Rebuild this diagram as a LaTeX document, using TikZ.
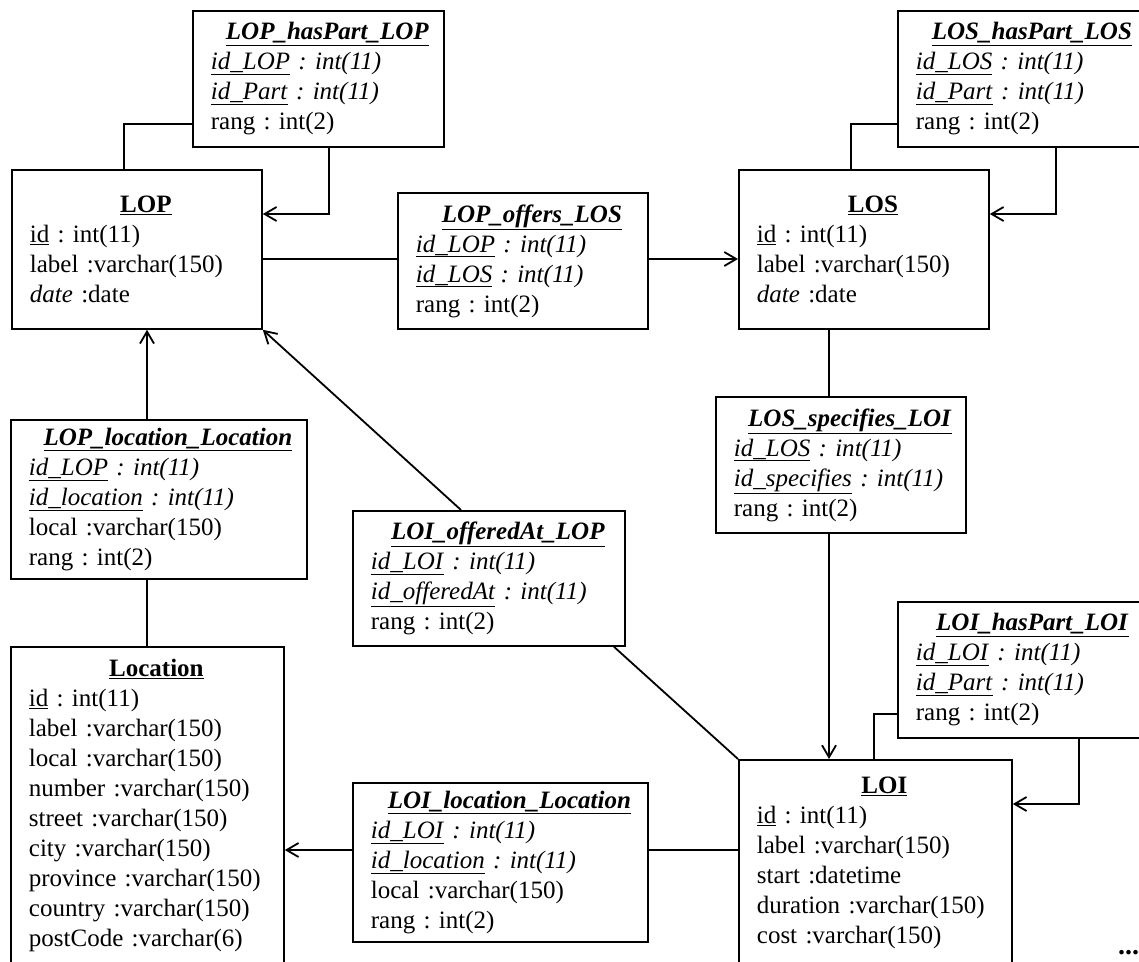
\documentclass[tikz,border=0pt]{standalone}
\usepackage{fontspec}
\setmainfont{Liberation Serif}
\usetikzlibrary{arrows.meta}
\frenchspacing
\newcommand\tbltitle[2]{\makebox[#1][c]{\hspace*{18pt}\underline{\textbf{#2}}}}
\newcommand\fkey[2]{\underline{\textit{#1}}\textit{ : #2}}
\tikzset{
  tbl/.style={draw, line width=1.8pt, anchor=north west, align=left,
    inner xsep=18pt, inner ysep=0pt, font=\frenchspacing\fontsize{25pt}{30pt}\selectfont},
  conn/.style={line width=1.8pt},
  arr/.style={conn, -{Straight Barb[length=12pt,width=14pt]}},
}
\begin{document}
\begin{tikzpicture}[x=1pt,y=-1pt]
\useasboundingbox (0,0) rectangle (1139,961);
\fill[white] (0,0) rectangle (1139,961);
\clip (0,0) rectangle (1139,961);

% tables
\node[tbl, minimum width=251pt, minimum height=136pt, text width=215pt] (lophp) at (192,10)
  {\tbltitle{215pt}{\textit{LOP\_hasPart\_LOP}}\\ \fkey{id\_LOP}{int(11)}\\ \fkey{id\_Part}{int(11)}\\ rang : int(2)};
\node[tbl, minimum width=250pt, minimum height=159pt, text width=214pt] (lop) at (11,169)
  {\tbltitle{214pt}{LOP}\\ \underline{id} : int(11)\\ label :varchar(150)\\ \textit{date} :date};
\node[tbl, minimum width=250pt, minimum height=136pt, text width=214pt] (lopos) at (397,192)
  {\tbltitle{214pt}{\textit{LOP\_offers\_LOS}}\\ \fkey{id\_LOP}{int(11)}\\ \fkey{id\_LOS}{int(11)}\\ rang : int(2)};
\node[tbl, minimum width=250pt, minimum height=159pt, text width=214pt] (los) at (738,169)
  {\tbltitle{214pt}{LOS}\\ \underline{id} : int(11)\\ label :varchar(150)\\ \textit{date} :date};
\node[tbl, minimum width=250pt, minimum height=136pt, text width=214pt] (loshp) at (897,10)
  {\tbltitle{214pt}{\textit{LOS\_hasPart\_LOS}}\\ \fkey{id\_LOS}{int(11)}\\ \fkey{id\_Part}{int(11)}\\ rang : int(2)};
\node[tbl, minimum width=296pt, minimum height=159pt, text width=260pt] (lopll) at (10,419)
  {\tbltitle{260pt}{\textit{LOP\_location\_Location}}\\ \fkey{id\_LOP}{int(11)}\\ \fkey{id\_location}{int(11)}\\ local :varchar(150)\\ rang : int(2)};
\node[tbl, minimum width=272pt, minimum height=135pt, text width=236pt] (loioa) at (352,510)
  {\tbltitle{236pt}{\textit{LOI\_offeredAt\_LOP}}\\ \fkey{id\_LOI}{int(11)}\\ \fkey{id\_offeredAt}{int(11)}\\ rang : int(2)};
\node[tbl, minimum width=250pt, minimum height=136pt, text width=214pt] (lossl) at (715,396)
  {\tbltitle{214pt}{\textit{LOS\_specifies\_LOI}}\\ \fkey{id\_LOS}{int(11)}\\ \fkey{id\_specifies}{int(11)}\\ rang : int(2)};
\node[tbl, minimum width=251pt, minimum height=136pt, text width=215pt] (loihp) at (897,601)
  {\tbltitle{215pt}{\textit{LOI\_hasPart\_LOI}}\\ \fkey{id\_LOI}{int(11)}\\ \fkey{id\_Part}{int(11)}\\ rang : int(2)};
\node[tbl, minimum width=273pt, minimum height=318pt, text width=237pt] (loc) at (10,646)
  {\tbltitle{237pt}{Location}\\ \underline{id} : int(11)\\ label :varchar(150)\\ local :varchar(150)\\ number :varchar(150)\\ street :varchar(150)\\ city :varchar(150)\\ province :varchar(150)\\ country :varchar(150)\\ postCode :varchar(6)};
\node[tbl, minimum width=295pt, minimum height=159pt, text width=259pt] (loill) at (352,782)
  {\tbltitle{259pt}{\textit{LOI\_location\_Location}}\\ \fkey{id\_LOI}{int(11)}\\ \fkey{id\_location}{int(11)}\\ local :varchar(150)\\ rang : int(2)};
\node[tbl, minimum width=273pt, minimum height=206pt, text width=237pt] (loi) at (738,759)
  {\tbltitle{237pt}{LOI}\\ \underline{id} : int(11)\\ label :varchar(150)\\ start :datetime\\ duration :varchar(150)\\ cost :varchar(150)};

\node[font=\fontsize{28pt}{30pt}\selectfont\bfseries, anchor=base west, inner sep=0pt] (more) at (1118,954) {...};

% connectors
\draw[conn] (lophp.west |- 0,124) -| (lop.north -| 124,0);
\draw[arr] (lophp.south -| 329,0) |- (lop.east |- 0,214);
\draw[conn] (lop.east |- 0,259) -- (lopos.west |- 0,259);
\draw[arr] (lopos.east |- 0,259) -- (los.west |- 0,259);
\draw[conn] (loshp.west |- 0,124) -| (los.north -| 851,0);
\draw[arr] (loshp.south -| 1056,0) |- (los.east |- 0,214);
\draw[conn] (los.south -| 829,0) -- (lossl.north -| 829,0);
\draw[arr] (lossl.south -| 829,0) -- (loi.north -| 829,0);
\draw[arr] (lopll.north -| 147,0) -- (lop.south -| 147,0);
\draw[conn] (lopll.south -| 147,0) -- (loc.north -| 147,0);
\draw[arr] (loioa.north -| 461,0) -- (lop.south east);
\draw[conn] (loioa.south -| 614,0) -- (loi.north west);
\draw[arr] (loill.west |- 0,850) -- (loc.east |- 0,850);
\draw[conn] (loill.east |- 0,850) -- (loi.west |- 0,850);
\draw[conn] (loihp.west |- 0,714) -| (loi.north -| 874,0);
\draw[arr] (loihp.south -| 1079,0) |- (loi.east |- 0,804);
\end{tikzpicture}
\end{document}
